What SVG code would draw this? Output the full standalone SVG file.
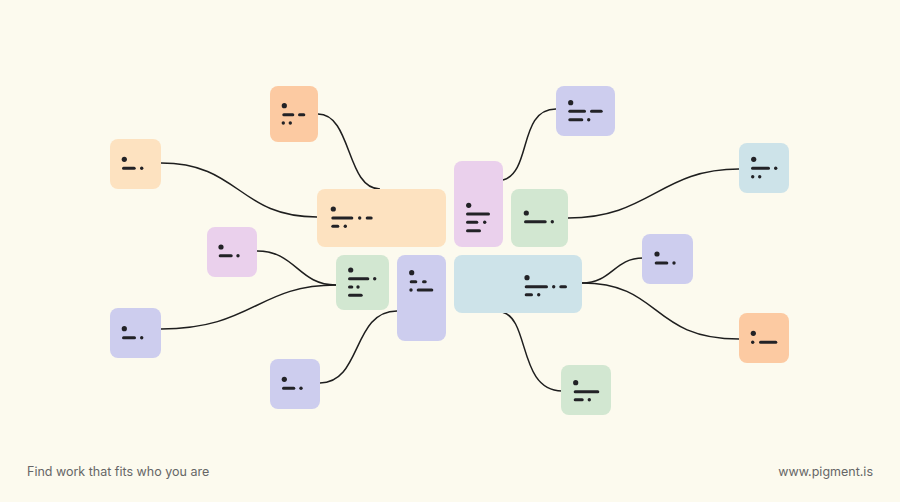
<svg xmlns="http://www.w3.org/2000/svg" width="900" height="502" viewBox="0 0 900 502">
<style>
.bg{fill:#FCFAEE}
.box{rx:8;ry:8}
.lo{fill:#FDE2C0}
.or{fill:#FCCAA2}
.pk{fill:#EAD0EC}
.pu{fill:#CDCDEE}
.gr{fill:#D2E7D1}
.bl{fill:#CDE3E9}
.m{stroke:#222226;stroke-width:3;stroke-linecap:round;fill:none}
.d{fill:#222226}
.c{fill:none;stroke:#1E1E1E;stroke-width:1.5}
.t{font-family:Inter,"Liberation Sans",sans-serif;font-size:12.5px;fill:#666666}
</style>
<rect class="bg" width="900" height="502"/>
<g id="connectors">
<path class="c" d="M318,114 C352,114 346,189 380,189"/>
<path class="c" d="M161,163 C240,163 238,217 317,217"/>
<path class="c" d="M503,180 C532,172 518,109 556,109"/>
<path class="c" d="M568,218 C650,218 660,169 739,169"/>
<path class="c" d="M257,251 C296,251 298,285 336,285"/>
<path class="c" d="M161,329 C252,329 258,285 336,285"/>
<path class="c" d="M320,383 C362,383 352,311 397,311"/>
<path class="c" d="M582,283 C612,283 614,258 643,258"/>
<path class="c" d="M582,283 C662,283 650,339 739,339"/>
<path class="c" d="M502,312 C530,318 518,391 562,391"/>
</g>
<g id="nodeA"><rect class="box lo" x="110" y="139" width="51" height="50"/>
<circle class="d" cx="124.3" cy="159.3" r="2.6"/><line class="m" x1="123.5" y1="168.3" x2="134.2" y2="168.3"/><circle class="d" cx="141.7" cy="168.3" r="1.7"/></g>
<g id="nodeB"><rect class="box or" x="270" y="86" width="48" height="56"/>
<circle class="d" cx="284.3" cy="105.7" r="2.6"/><line class="m" x1="283.8" y1="114.7" x2="292.8" y2="114.7"/><line class="m" x1="299.5" y1="114.7" x2="303.8" y2="114.7"/><circle class="d" cx="283.3" cy="123" r="1.7"/><circle class="d" cx="290.3" cy="123" r="1.7"/></g>
<g id="nodeC"><rect class="box lo" x="317" y="189" width="129" height="58"/>
<circle class="d" cx="333.3" cy="209" r="2.6"/><line class="m" x1="332.8" y1="218" x2="351.8" y2="218"/><circle class="d" cx="359.7" cy="218" r="1.7"/><line class="m" x1="367.2" y1="218" x2="371.2" y2="218"/><line class="m" x1="332.8" y1="226.3" x2="337.8" y2="226.3"/><circle class="d" cx="345.3" cy="226.3" r="1.7"/></g>
<g id="nodeD"><rect class="box pk" x="454" y="161" width="49" height="86"/>
<circle class="d" cx="468.7" cy="205.3" r="2.6"/><line class="m" x1="467.5" y1="214" x2="488.5" y2="214"/><line class="m" x1="467.5" y1="222.3" x2="476.8" y2="222.3"/><circle class="d" cx="484.7" cy="222.3" r="1.7"/><line class="m" x1="467.5" y1="230.7" x2="479.5" y2="230.7"/></g>
<g id="nodeE"><rect class="box pu" x="556" y="86" width="59" height="50"/>
<circle class="d" cx="570.7" cy="102.7" r="2.6"/><line class="m" x1="569.8" y1="111.3" x2="584.5" y2="111.3"/><line class="m" x1="591.5" y1="111.3" x2="601.2" y2="111.3"/><line class="m" x1="569.8" y1="119.7" x2="581.8" y2="119.7"/><circle class="d" cx="588.7" cy="119.7" r="1.7"/></g>
<g id="nodeF"><rect class="box gr" x="511" y="189" width="57" height="58"/>
<circle class="d" cx="526.3" cy="213" r="2.6"/><line class="m" x1="525.5" y1="221.7" x2="545.2" y2="221.7"/><circle class="d" cx="552.3" cy="221.7" r="1.7"/></g>
<g id="nodeG"><rect class="box bl" x="739" y="143" width="50" height="50"/>
<circle class="d" cx="753.7" cy="159.3" r="2.6"/><line class="m" x1="752.5" y1="168.3" x2="768.5" y2="168.3"/><circle class="d" cx="775.7" cy="168.3" r="1.7"/><circle class="d" cx="752.7" cy="176.7" r="1.7"/><circle class="d" cx="759.7" cy="176.7" r="1.7"/></g>
<g id="nodeH"><rect class="box pk" x="207" y="227" width="50" height="50"/>
<circle class="d" cx="221" cy="247" r="2.6"/><line class="m" x1="220.2" y1="255.7" x2="231.2" y2="255.7"/><circle class="d" cx="238" cy="255.7" r="1.7"/></g>
<g id="nodeI"><rect class="box gr" x="336" y="255" width="53" height="55"/>
<circle class="d" cx="350.7" cy="270" r="2.6"/><line class="m" x1="349.5" y1="278.7" x2="367.8" y2="278.7"/><circle class="d" cx="374.7" cy="278.7" r="1.7"/><line class="m" x1="349.5" y1="287" x2="351.8" y2="287"/><circle class="d" cx="358" cy="287" r="1.7"/><line class="m" x1="349.5" y1="295.3" x2="361.2" y2="295.3"/></g>
<g id="nodeJ"><rect class="box pu" x="397" y="255" width="49" height="86"/>
<circle class="d" cx="411.7" cy="272.7" r="2.6"/><line class="m" x1="411.2" y1="281.7" x2="415.8" y2="281.7"/><line class="m" x1="423.5" y1="281.7" x2="425.2" y2="281.7"/><circle class="d" cx="411" cy="290" r="1.7"/><line class="m" x1="418.2" y1="290" x2="431.8" y2="290"/></g>
<g id="nodeK"><rect class="box pu" x="110" y="308" width="51" height="50"/>
<circle class="d" cx="124.3" cy="328.7" r="2.6"/><line class="m" x1="123.5" y1="337.7" x2="134.5" y2="337.7"/><circle class="d" cx="141.7" cy="337.7" r="1.7"/></g>
<g id="nodeL"><rect class="box pu" x="270" y="359" width="50" height="50"/>
<circle class="d" cx="284.3" cy="379.3" r="2.6"/><line class="m" x1="283.5" y1="388.3" x2="293.8" y2="388.3"/><circle class="d" cx="301" cy="388.3" r="1.7"/></g>
<g id="nodeM"><rect class="box bl" x="454" y="255" width="128" height="58"/>
<circle class="d" cx="527" cy="277.7" r="2.6"/><line class="m" x1="526.2" y1="286.7" x2="546.5" y2="286.7"/><circle class="d" cx="553.7" cy="286.7" r="1.7"/><line class="m" x1="560.8" y1="286.7" x2="565.5" y2="286.7"/><line class="m" x1="526.2" y1="294.7" x2="531.5" y2="294.7"/><circle class="d" cx="538.7" cy="294.7" r="1.7"/></g>
<g id="nodeN"><rect class="box pu" x="642" y="234" width="51" height="50"/>
<circle class="d" cx="657" cy="254" r="2.6"/><line class="m" x1="656.2" y1="263" x2="666.8" y2="263"/><circle class="d" cx="674" cy="263" r="1.7"/></g>
<g id="nodeO"><rect class="box or" x="739" y="313" width="50" height="50"/>
<circle class="d" cx="753.3" cy="333.3" r="2.6"/><circle class="d" cx="752.7" cy="342.3" r="1.7"/><line class="m" x1="760.5" y1="342.3" x2="775.8" y2="342.3"/></g>
<g id="nodeP"><rect class="box gr" x="561" y="365" width="50" height="50"/>
<circle class="d" cx="575.7" cy="382.7" r="2.6"/><line class="m" x1="575.2" y1="391.7" x2="597.8" y2="391.7"/><line class="m" x1="575.2" y1="399.7" x2="582.2" y2="399.7"/><circle class="d" cx="589.3" cy="399.7" r="1.7"/></g>
<text class="t" x="27" y="476">Find work that fits who you are</text>
<text class="t" x="873" y="476" text-anchor="end">www.pigment.is</text>
</svg>
